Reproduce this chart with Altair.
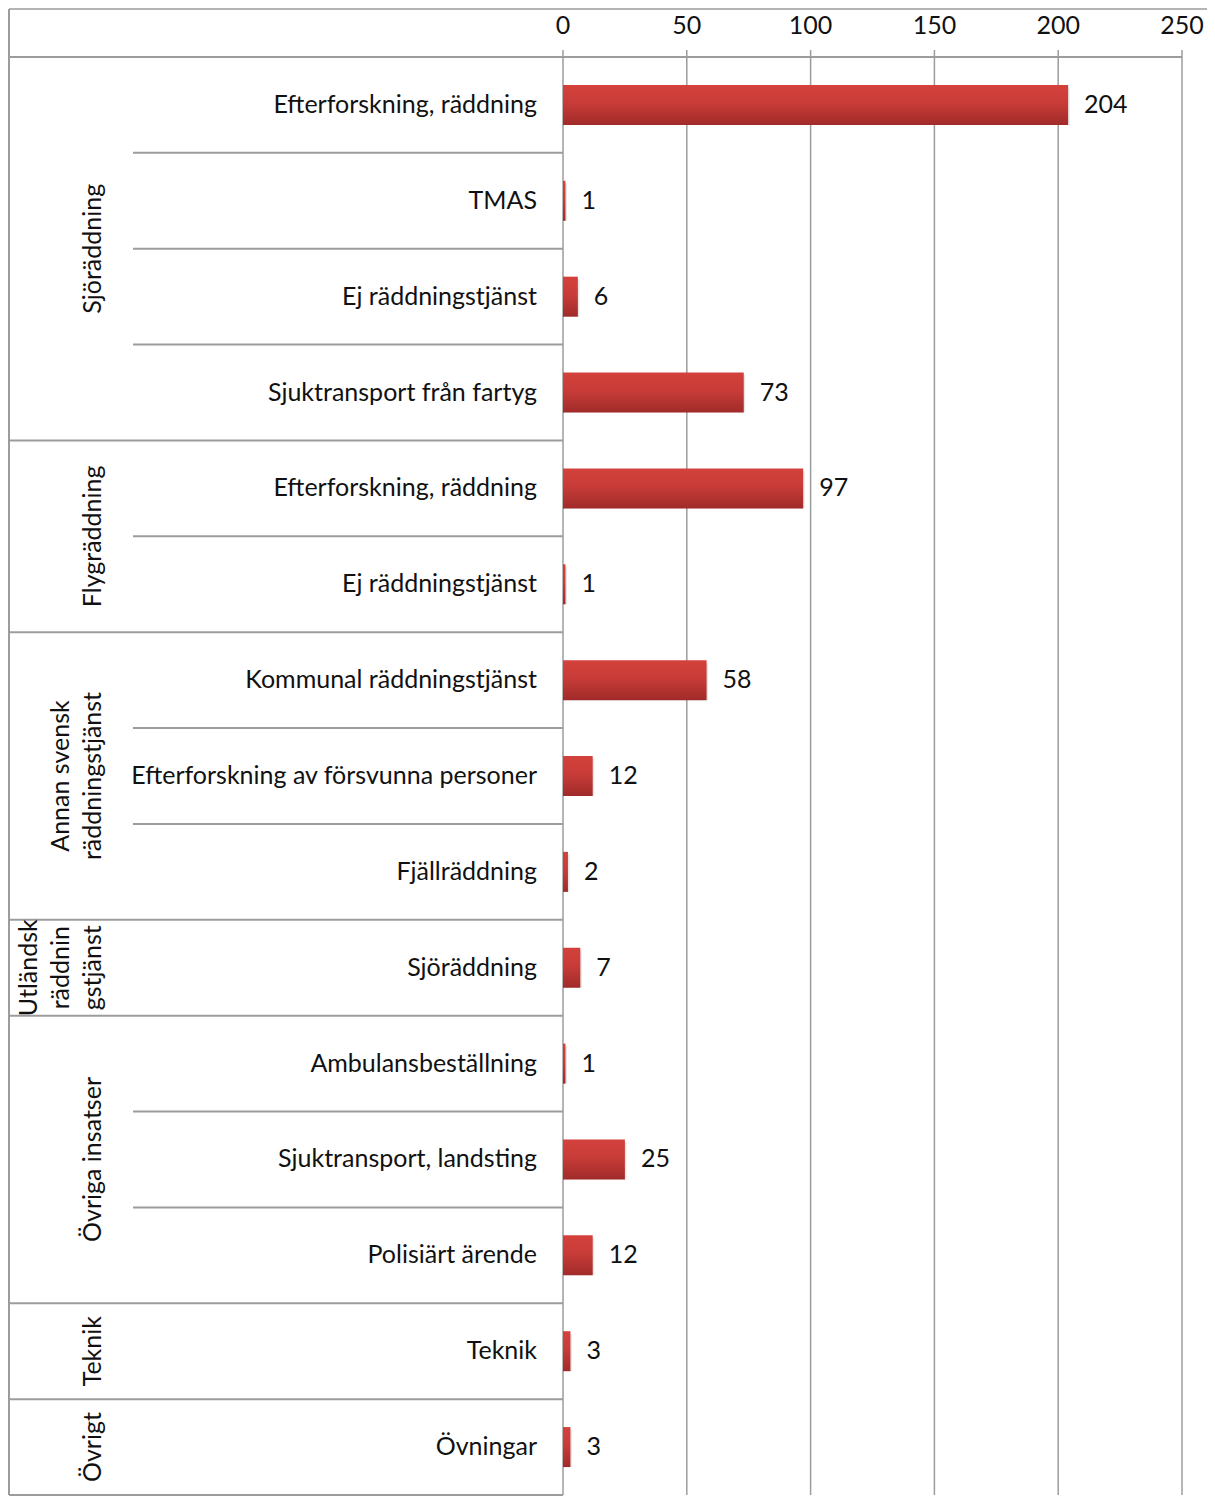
import altair as alt
import pandas as pd
import numpy as np

categories = ["Efterforskning, räddning", "TMAS", "Ej räddningstjänst", "Sjuktransport från fartyg",
              "Efterforskning, räddning", "Ej räddningstjänst",
              "Kommunal räddningstjänst", "Efterforskning av försvunna personer", "Fjällräddning",
              "Sjöräddning",
              "Ambulansbeställning", "Sjuktransport, landsting", "Polisiärt ärende",
              "Teknik", "Övningar"]
values = [204, 1, 6, 73, 97, 1, 58, 12, 2, 7, 1, 25, 12, 3, 3]
group_labels = ["Sjöräddning", "Flygräddning", "Annan svensk\nräddningstjänst",
                "Utländsk\nräddnin\ngstjänst", "Övriga insatser", "Teknik", "Övrigt"]
group_sizes = [4, 2, 3, 1, 3, 1, 1]
tick_values = [0, 50, 100, 150, 200, 250]

FONT = "Lato"
FS = 25
LINE = "#9c9c9c"
TXT = "#111111"

# layout (pixels inside the chart)
W, H = 1198, 1488
TOP_LINE, HDR, BOTTOM = 1, 49, 1487
ZERO_PX, PX_PER_UNIT = 554, 2.476
n = len(categories)
u = (BOTTOM - HDR) / n          # pixels per row
y_dom = [-HDR / u, (H - HDR) / u]
x_dom = [-ZERO_PX / PX_PER_UNIT, (W - ZERO_PX) / PX_PER_UNIT]
top_y = (TOP_LINE - HDR) / u
tick_top = -7 / u
half_bar = 20 / u

bars = pd.DataFrame({"cat": categories, "value": values, "row": np.arange(n)})
bars["yc"] = bars["row"] + 0.5
bars["y0"] = bars["yc"] - half_bar
bars["y1"] = bars["yc"] + half_bar

ends = np.cumsum(group_sizes)
starts = ends - np.array(group_sizes)
nlines = [s.count("\n") for s in group_labels]
groups = pd.DataFrame({"label": group_labels, "yc": (starts + ends) / 2.0,
                       "xpix": [97 - 32 * k for k in nlines]})

group_bounds = set(int(e) for e in ends)
inner = pd.DataFrame({"y": [k for k in range(1, n) if k not in group_bounds]})
outer = pd.DataFrame({"y": sorted(group_bounds)})
ticks = pd.DataFrame({"t": tick_values})
ticks["ya"] = tick_top
ticks["yb"] = float(n)
single = pd.DataFrame({"y": [top_y], "y0": [0.0], "yb": [float(n)]})

xs = alt.Scale(domain=x_dom, nice=False, zero=False)
ys = alt.Scale(domain=y_dom, nice=False, zero=False, reverse=True)

def X(f, **k):
    return alt.X(f, type="quantitative", scale=xs, axis=None, **k)

def Y(f, **k):
    return alt.Y(f, type="quantitative", scale=ys, axis=None, **k)

grid = alt.Chart(ticks).mark_rule(color=LINE, strokeWidth=1.5).encode(
    x=X("t"), y=Y("ya"), y2="yb")

tick_text = alt.Chart(ticks).mark_text(font=FONT, fontSize=FS, align="center",
                                       baseline="middle", color=TXT).encode(
    x=X("t"), y=alt.value(18), text=alt.Text("t:Q"))

inner_lines = alt.Chart(inner).mark_rule(color=LINE, strokeWidth=2).encode(
    x=alt.value(124), x2=alt.value(ZERO_PX), y=Y("y"))
outer_lines = alt.Chart(outer).mark_rule(color=LINE, strokeWidth=2).encode(
    x=alt.value(0), x2=alt.value(ZERO_PX), y=Y("y"))
header_top = alt.Chart(single).mark_rule(color="#b4b4b4", strokeWidth=2).encode(
    x=alt.value(0), x2=alt.value(W), y=Y("y"))
header_bottom = alt.Chart(single).mark_rule(color=LINE, strokeWidth=2).encode(
    x=alt.value(0), x2=alt.value(ZERO_PX + 250 * PX_PER_UNIT), y=Y("y0"))
left_border = alt.Chart(single).mark_rule(color=LINE, strokeWidth=2).encode(
    x=alt.value(0), y=Y("y"), y2="yb")

shadow = alt.Chart(bars).transform_calculate(zero="0").mark_bar(
    color="#000000", opacity=0.10, xOffset=1.5, yOffset=2.5).encode(
    x=X("value"), x2="zero:Q", y=Y("y0"), y2="y1")

grad = alt.Gradient(gradient="linear", x1=0, y1=0, x2=0, y2=1,
                    stops=[alt.GradientStop(color="#d4413c", offset=0),
                           alt.GradientStop(color="#c83c38", offset=0.45),
                           alt.GradientStop(color="#a02b29", offset=1)])
bar = alt.Chart(bars).transform_calculate(zero="0").mark_bar(color=grad).encode(
    x=X("value"), x2="zero:Q", y=Y("y0"), y2="y1")

val_text = alt.Chart(bars).mark_text(font=FONT, fontSize=FS, align="left", baseline="middle",
                                     dx=16, color=TXT).encode(
    x=X("value"), y=Y("yc"), text=alt.Text("value:Q"))

cat_text = alt.Chart(bars).mark_text(font=FONT, fontSize=FS, align="right", baseline="middle",
                                     color=TXT).encode(
    x=alt.value(528), y=Y("yc"), text="cat:N")

grp_text = alt.Chart(groups).mark_text(font=FONT, fontSize=FS, align="center", baseline="bottom",
                                       angle=270, lineBreak="\n", lineHeight=32,
                                       color=TXT).encode(
    x=alt.X("xpix:Q", scale=None, axis=None), y=Y("yc"), text="label:N")

chart = alt.layer(grid, inner_lines, outer_lines, header_top, header_bottom, left_border,
                  shadow, bar, val_text, cat_text, grp_text, tick_text).properties(
    width=W, height=H,
    padding={"left": 1, "top": 0, "right": 0, "bottom": 0},
    autosize=alt.AutoSizeParams(type="none"),
).configure_view(stroke=None)

chart.save("out.html", embed_options={"renderer": "svg", "actions": False})
